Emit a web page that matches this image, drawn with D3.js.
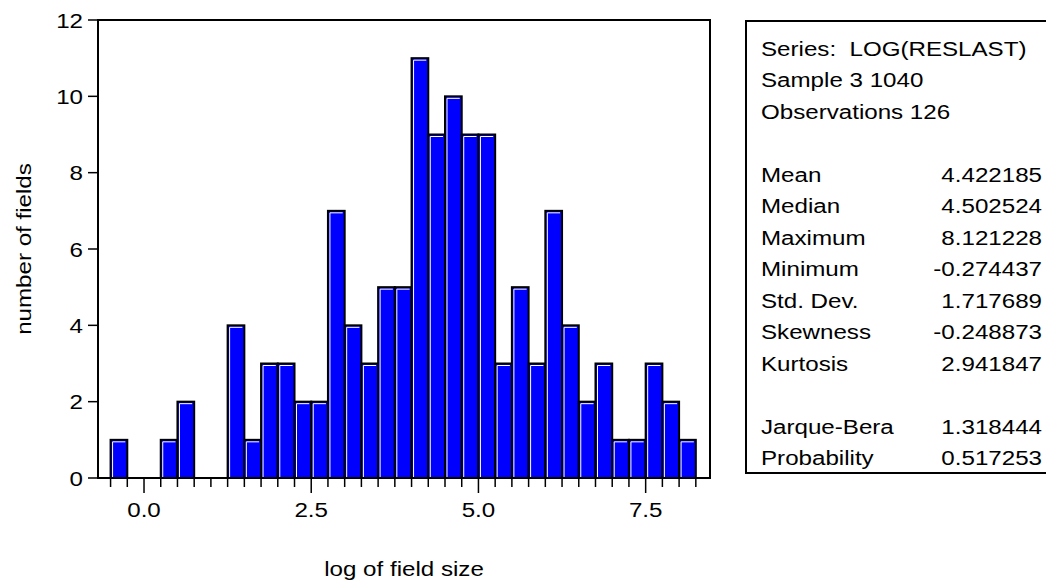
<!DOCTYPE html>
<html>
<head>
<meta charset="utf-8">
<script src="https://cdn.jsdelivr.net/npm/d3@7"></script>
<style>
  html, body { margin: 0; padding: 0; background: #fff; }
  svg { display: block; }
  text { font-family: "Liberation Sans", Arial, sans-serif; fill: #000; white-space: pre; }
</style>
</head>
<body>
<svg id="chart" width="1046" height="588"></svg>
<script>
// ---- data ----
const binStarts = [-0.5,-0.25,0,0.25,0.5,0.75,1,1.25,1.5,1.75,2,2.25,2.5,2.75,3,3.25,3.5,3.75,4,4.25,4.5,4.75,5,5.25,5.5,5.75,6,6.25,6.5,6.75,7,7.25,7.5,7.75,8];
const counts    = [1,0,0,1,2,0,0,4,1,3,3,2,2,7,4,3,5,5,11,9,10,9,9,3,5,3,7,4,2,3,1,1,3,2,1];
const binWidth = 0.25;
const xTickLabels = [0.0, 2.5, 5.0, 7.5];
const yTickValues = [0, 2, 4, 6, 8, 10, 12];
const statsHeader = ["Series:\u00a0\u00a0LOG(RESLAST)", "Sample 3 1040", "Observations 126"];
const statNames  = ["Mean","Median","Maximum","Minimum","Std. Dev.","Skewness","Kurtosis"];
const statValues = ["4.422185","4.502524","8.121228","-0.274437","1.717689","-0.248873","2.941847"];
const testNames  = ["Jarque-Bera","Probability"];
const testValues = ["1.318444","0.517253"];

// ---- layout ----
const svg = d3.select("#chart");
const L = 98, R = 710, T = 20, B = 478;
const FS = 21, SX = 1.15;
const x = d3.scaleLinear().domain([-0.688, 8.462]).range([L, R]);
const y = d3.scaleLinear().domain([0, 12]).range([B, T]);

function stext(g, str, tx, ty, anchor) {
  return g.append("text")
    .attr("transform", `translate(${tx},${ty}) scale(${SX},1)`)
    .attr("text-anchor", anchor || "start")
    .style("font-size", FS + "px")
    .text(str);
}

// bars
const bars = svg.append("g");
binStarts.forEach((b, i) => {
  const c = counts[i];
  if (c <= 0) return;
  const x0 = x(b), x1 = x(b + binWidth), y0 = y(c), y1 = y(0);
  bars.append("rect")
    .attr("x", x0).attr("y", y0)
    .attr("width", x1 - x0).attr("height", y1 - y0)
    .attr("fill", "#0000ff").attr("stroke", "#000").attr("stroke-width", 2);
  bars.append("path")
    .attr("d", `M${x0 + 2},${y1 - 1}V${y0 + 2}H${x1 - 2}`)
    .attr("fill", "none").attr("stroke", "#fff").attr("stroke-width", 1);
});

// frame
svg.append("path")
  .attr("d", `M${L},${B}V${T}H${R}V${B}Z`)
  .attr("fill", "none").attr("stroke", "#000").attr("stroke-width", 2);

// y axis ticks/labels
const yAxis = svg.append("g");
yTickValues.forEach(v => {
  yAxis.append("line").attr("x1", L - 10).attr("x2", L).attr("y1", y(v)).attr("y2", y(v))
    .attr("stroke", "#000").attr("stroke-width", 1.5);
  stext(yAxis, String(v), L - 15, y(v) + 7.5, "end");
});

// x axis ticks
const xAxis = svg.append("g");
const edges = binStarts.concat([binStarts[binStarts.length - 1] + binWidth]);
edges.forEach(e => {
  const major = xTickLabels.some(t => Math.abs(t - e) < 1e-9);
  xAxis.append("line").attr("x1", x(e)).attr("x2", x(e))
    .attr("y1", B).attr("y2", B + (major ? 15 : 9))
    .attr("stroke", "#000").attr("stroke-width", 1.5);
});
xTickLabels.forEach(t => {
  stext(xAxis, t.toFixed(1), x(t), 517, "middle");
});

// axis titles
stext(svg, "log of field size", (L + R) / 2, 576, "middle");
svg.append("text")
  .attr("transform", `translate(31,${(T + B) / 2}) rotate(-90) scale(${SX},1)`)
  .attr("text-anchor", "middle")
  .style("font-size", FS + "px")
  .text("number of fields");

// stats box
const bx = 746, bt = 21, bb = 473;
svg.append("path")
  .attr("d", `M1050,${bt}H${bx}V${bb}H1050`)
  .attr("fill", "none").attr("stroke", "#000").attr("stroke-width", 2);
const st = svg.append("g");
const rowH = 31.5, firstRow = 48, tx = 761, vx = 1042;
statsHeader.forEach((s, i) => stext(st, s, tx, firstRow + i * rowH + 7.5));
statNames.forEach((s, i) => {
  const yy = firstRow + (4 + i) * rowH + 7.5;
  stext(st, s, tx, yy);
  stext(st, statValues[i], vx, yy, "end");
});
testNames.forEach((s, i) => {
  const yy = firstRow + (12 + i) * rowH + 7.5;
  stext(st, s, tx, yy);
  stext(st, testValues[i], vx, yy, "end");
});
</script>
</body>
</html>
